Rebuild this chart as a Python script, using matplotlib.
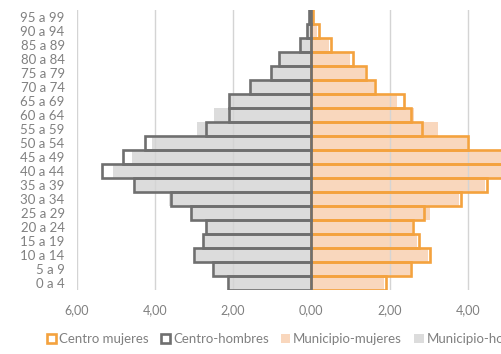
import matplotlib
matplotlib.use("Agg")
import matplotlib.pyplot as plt
from matplotlib.ticker import FuncFormatter
from matplotlib.patches import Patch

plt.rcParams['font.family'] = ['Lato', 'DejaVu Sans']

ages = ["0 a 4", "5 a 9", "10 a 14", "15 a 19", "20 a 24", "25 a 29", "30 a 34",
        "35 a 39", "40 a 44", "45 a 49", "50 a 54", "55 a 59", "60 a 64", "65 a 69",
        "70 a 74", "75 a 79", "80 a 84", "85 a 89", "90 a 94", "95 a 99"]

centro_mujeres = [1.90, 2.56, 3.03, 2.74, 2.61, 2.89, 3.82, 4.49, 5.30, 5.05,
                  4.00, 2.84, 2.55, 2.36, 1.64, 1.40, 1.06, 0.50, 0.20, 0.05]
centro_hombres = [2.14, 2.52, 3.01, 2.77, 2.69, 3.08, 3.59, 4.52, 5.35, 4.82,
                  4.26, 2.69, 2.10, 2.10, 1.56, 1.03, 0.82, 0.29, 0.12, 0.06]
municipio_mujeres = [1.87, 2.52, 2.98, 2.70, 2.58, 3.03, 3.78, 4.43, 5.10, 4.90,
                     3.98, 3.24, 2.62, 2.18, 1.60, 1.38, 1.00, 0.45, 0.15, 0.04]
municipio_hombres = [2.07, 2.47, 2.95, 2.74, 2.66, 3.04, 3.64, 4.47, 5.07, 4.57,
                     4.07, 2.92, 2.48, 2.10, 1.56, 1.03, 0.82, 0.29, 0.12, 0.06]

xticks = [-6, -4, -2, 0, 2, 4]

C_OR = "#F4A23E"
C_ORF = "#F9D7BD"
C_DG = "#6F6F6F"
C_LG = "#DCDCDC"
C_TXT = "#808080"

fig = plt.figure(figsize=(5.02, 3.54), dpi=100)
ax = fig.add_axes([76.5 / 502, (354 - 289.5) / 354, 469.6 / 502, 279.5 / 354])

y = list(range(len(ages)))
ax.barh(y, municipio_mujeres, height=1.0, color=C_ORF, zorder=1, linewidth=0)
ax.barh(y, [-v for v in municipio_hombres], height=1.0, color=C_LG, zorder=1, linewidth=0)
ax.barh(y, centro_mujeres, height=1.0, fill=False, edgecolor=C_OR, linewidth=1.9, zorder=3)
ax.barh(y, [-v for v in centro_hombres], height=1.0, fill=False, edgecolor=C_DG, linewidth=1.9, zorder=3)

ax.set_xlim(-6, 6)
ax.set_ylim(-0.5, len(ages) - 0.5)
ax.set_xticks(xticks)
ax.xaxis.set_major_formatter(FuncFormatter(lambda v, p: f"{abs(v):.2f}".replace(".", ",")))
ax.set_yticks(y)
ax.set_yticklabels(ages)
ax.tick_params(axis='both', length=0, labelcolor=C_TXT)
ax.tick_params(axis='y', pad=8.5, labelsize=9.5)
ax.tick_params(axis='x', pad=10.5, labelsize=9)
for s in ax.spines.values():
    s.set_visible(False)
ax.grid(axis='x', color="#D4D4D4", linewidth=1.0, zorder=2)
ax.set_axisbelow(False)
for gl in ax.get_xgridlines():
    gl.set_zorder(2)
# gridline at the right edge (6,00), beyond the visible area
ax.axvline(6, color="#D4D4D4", linewidth=1.0, zorder=2)

handles = [
    Patch(facecolor="white", edgecolor=C_OR, linewidth=1.9, label="Centro mujeres"),
    Patch(facecolor="white", edgecolor=C_DG, linewidth=1.9, label="Centro-hombres"),
    Patch(facecolor=C_ORF, edgecolor="none", label="Municipio-mujeres"),
    Patch(facecolor=C_LG, edgecolor="none", label="Municipio-hombres"),
]
leg = fig.legend(handles=handles, loc="center left", bbox_to_anchor=(47 / 502, 1 - 339 / 354),
                 ncol=4, frameon=False, fontsize=9.5, handlelength=0.7, handleheight=0.7,
                 handletextpad=0.2, columnspacing=0.95, borderaxespad=0, borderpad=0)
for t in leg.get_texts():
    t.set_color(C_TXT)

fig.savefig("out.png", dpi=100)
